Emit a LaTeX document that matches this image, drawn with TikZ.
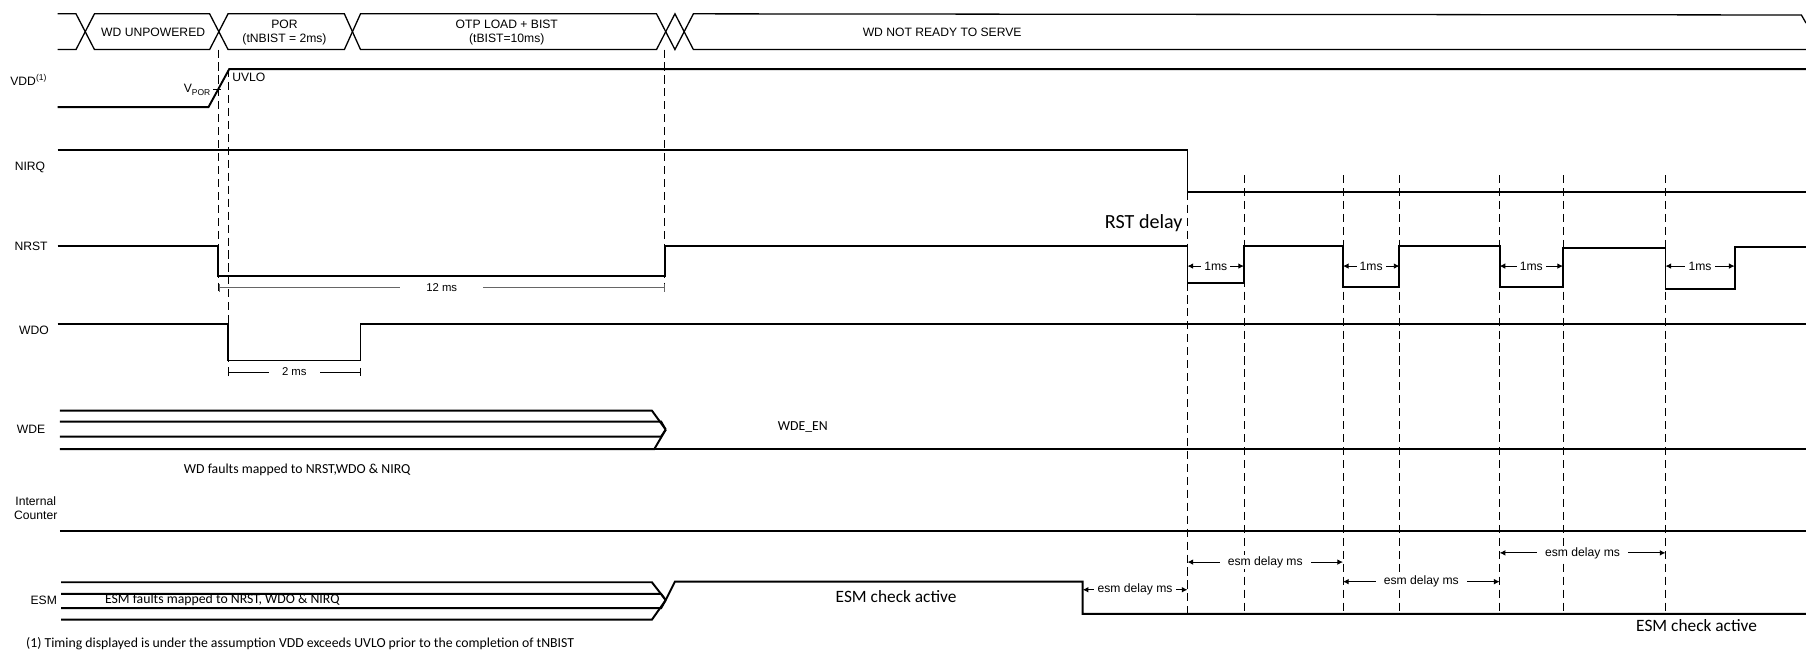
\documentclass[tikz,border=0pt]{standalone}
\usepackage{fontspec}
\setmainfont{Liberation Sans}
\newfontfamily\calfont{Carlito}
\usetikzlibrary{arrows.meta}

\begin{document}
\begin{tikzpicture}[
  x=0.25mm, y=-0.25mm,
  every node/.style={font=\fontsize{7.5}{8.75}\selectfont, inner sep=1pt},
  sig/.style={line width=1.2pt, line join=miter},
  bus/.style={line width=0.8pt},
  guide/.style={line width=0.5pt, dash pattern=on 5pt off 3pt},
  dimarr/.style={{Latex[length=3.5pt,width=3.5pt]}-{Latex[length=3.5pt,width=3.5pt]}, line width=0.6pt},
  dimbar/.style={{Bar[width=5pt]}-{Bar[width=5pt]}, line width=0.6pt},
  dimlbl/.style={fill=white, inner xsep=2pt, inner ysep=1pt},
  note/.style={font=\calfont\fontsize{8.5}{10}\selectfont},
  bignote/.style={font=\calfont\fontsize{10.7}{12}\selectfont},
]
  \useasboundingbox (0,0) rectangle (1568,565);

  % State bar
  \draw[bus] (50,12) -- (66,12) -- (82,43) -- (182,43) -- (198,12) -- (299,12) -- (313,43)
    -- (570,43) -- (586,12) -- (602,43) -- (1568,43);
  \draw[bus] (50,43) -- (66,43) -- (82,12) -- (182,12) -- (198,43) -- (299,43) -- (313,12)
    -- (570,12) -- (586,43) -- (602,12) -- (1564,13) -- (1568,20);
  \node (unpow) at (133,28) {WD UNPOWERED};
  \node[align=center] (por) at (247,28) {POR\\(tNBIST = 2ms)};
  \node[align=center] (otp) at (440,28) {OTP LOAD + BIST\\(tBIST=10ms)};
  \node (notready) at (818,28) {WD NOT READY TO SERVE};

  % VDD
  \node (vddlbl) at (25,69) {VDD\textsuperscript{(1)}};
  \draw[sig] (50,93) -- (181,93) -- (199,60) -- (1568,60);
  \draw[line width=0.6pt] (185,77.6) -- (192,77.6);
  \node[anchor=east] (vpor) at (185,78) {V\textsubscript{POR}};
  \node[anchor=west] (uvlo) at (200,67) {UVLO};

  % NIRQ
  \node (nirqlbl) at (26,145) {NIRQ};
  \draw[sig] (50,130) -- (1031,130) -- (1031,166.5) -- (1568,166.5);

  % NRST
  \node (nrstlbl) at (27,214) {NRST};
  \draw[sig] (50,213.5) -- (189,213.5) -- (189,240) -- (577,240) -- (577,213.5) -- (1031,213.5)
    -- (1031,246) -- (1080,246) -- (1080,213.5) -- (1166,213.5) -- (1166,249) -- (1215,249)
    -- (1215,213.5) -- (1302,213.5) -- (1302,249) -- (1357,249) -- (1357,215.5) -- (1446,215.5)
    -- (1446,251) -- (1506,251) -- (1506,214.5) -- (1568,214.5);
  \node[font=\calfont\fontsize{12.4}{14}\selectfont] (rstdelay) at (993,194) {RST delay};

  % WDO
  \node (wdolbl) at (29.5,287) {WDO};
  \draw[sig] (50,281) -- (198,281) -- (198,313) -- (313,313) -- (313,281) -- (1568,281);

  % WDE
  \node (wdelbl) at (27,373) {WDE};
  \draw[sig] (52,356.5) -- (566,356.5) -- (578,373);
  \draw[sig] (52,366) -- (574,366) -- (578,373);
  \draw[sig] (52,379) -- (574,379) -- (578,373);
  \draw[sig] (52,390) -- (568,390) -- (578,373);
  \draw[sig] (568,390) -- (1568,390);
  \node[note] (wdeen) at (697,371) {WDE\_EN};
  \node[note] (wdfault) at (258,408) {WD faults mapped to NRST,WDO \& NIRQ};

  % Internal counter
  \node[align=center] (cntlbl) at (31,441) {Internal\\Counter};
  \draw[sig] (52,460.7) -- (1568,460.7);

  % ESM
  \node (esmlbl) at (38,521) {ESM};
  \draw[sig] (53,505.5) -- (566,505.5) -- (578,521);
  \draw[sig] (53,515.6) -- (574,515.6) -- (578,521);
  \draw[sig] (53,528) -- (574,528) -- (578,521);
  \draw[sig] (53,538) -- (566,538) -- (578,521) -- (586,505) -- (940,505) -- (940,533) -- (1568,533);
  \node[note] (esmfault) at (193,521) {ESM faults mapped to NRST, WDO \& NIRQ};
  \node[bignote] (esmact1) at (778,518) {ESM check active};
  \node[bignote] (esmact2) at (1473,543.5) {ESM check active};

  % Guides
  \draw[guide] (190,43) -- (190,253);
  \draw[guide] (198,60) -- (198,327);
  \draw[guide] (577,43) -- (577,253);
  \draw[guide] (1031,166.5) -- (1031,533);
  \foreach \x in {1080,1166,1215,1302,1357,1446}
    \draw[guide] (\x,152) -- (\x,533);

  % Timings
  \draw[dimbar, black!60] (190,250) -- (577,250)
    node[midway, dimlbl, inner xsep=16pt, text=black, font=\fontsize{7}{8}\selectfont] {12 ms};
  \draw[dimbar] (198,323) -- (313,323)
    node[midway, dimlbl, inner xsep=8pt, font=\fontsize{7}{8}\selectfont] {2 ms};
  \foreach \a/\b in {1031/1080, 1166/1215, 1302/1357, 1446/1506}
    \draw[dimarr] (\a,231) -- (\b,231) node[midway, dimlbl] {1ms};
  \draw[dimarr] (940,512) -- (1031,512) node[midway, dimlbl] {esm delay ms};
  \draw[dimarr] (1031,488) -- (1166,488) node[midway, dimlbl, inner xsep=5pt] {esm delay ms};
  \draw[dimarr] (1166,505) -- (1302,505) node[midway, dimlbl, inner xsep=5pt] {esm delay ms};
  \draw[dimarr] (1302,480) -- (1446,480) node[midway, dimlbl, inner xsep=5pt] {esm delay ms};

  % Footnote
  \node[note, anchor=west, inner sep=0pt] (foot) at (22.4,559)
    {(1) Timing displayed is under the assumption VDD exceeds UVLO prior to the completion of tNBIST};
\end{tikzpicture}
\end{document}
